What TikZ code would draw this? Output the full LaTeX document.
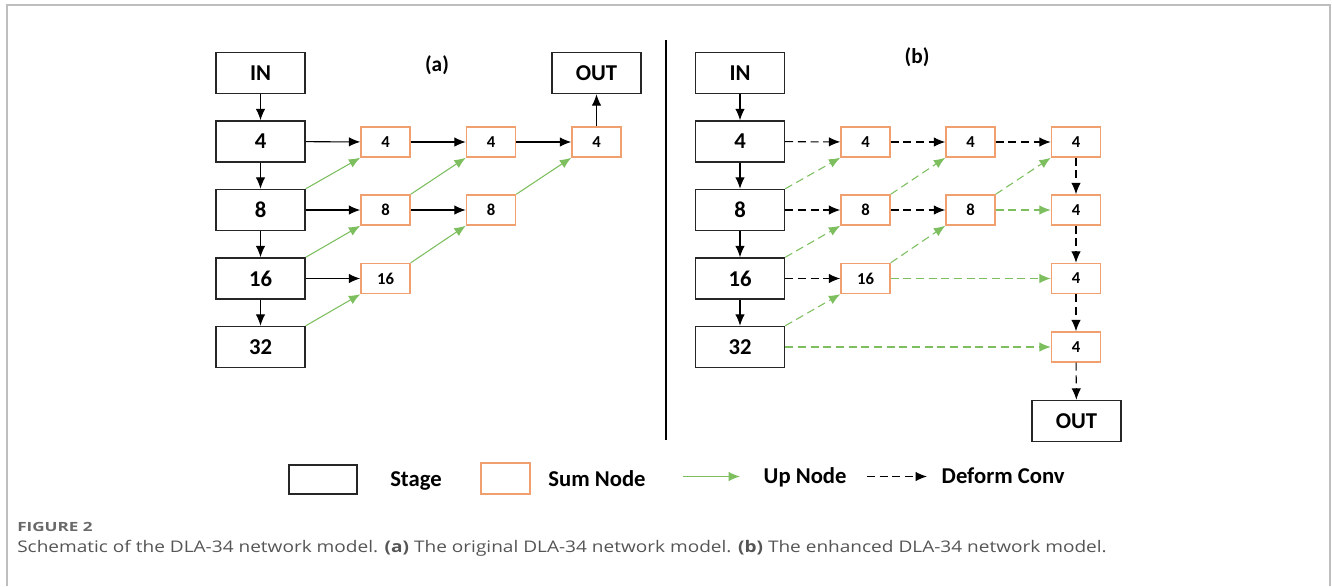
\documentclass[tikz,border=0pt]{standalone}
\usepackage{fontspec}
\setmainfont{Carlito}
\newfontfamily\capfont{Open Sans}
\usetikzlibrary{arrows.meta}
\definecolor{sumor}{RGB}{240,160,110}
\definecolor{upgr}{RGB}{125,190,95}
\definecolor{framegr}{RGB}{190,190,190}
\definecolor{capgr}{RGB}{85,85,85}
\definecolor{figgr}{RGB}{105,105,105}
\begin{document}
\begin{tikzpicture}[x=0.75pt,y=-0.75pt,
  stagebox/.style={draw=black!85,line width=1.1pt,minimum width=66.75pt,minimum height=30.75pt,inner sep=0pt,font=\fontsize{17}{20}\selectfont\bfseries},
  sumbox/.style={draw=sumor,line width=1.1pt,minimum width=36.75pt,minimum height=22.5pt,inner sep=0pt,fill=white,font=\fontsize{12.5}{15}\selectfont\bfseries},
  tipped/.style={-{Latex[length=8.5pt,width=7pt]}},
  blk/.style={tipped,draw=black,line width=0.8pt},
  up/.style={tipped,draw=upgr,color=upgr,line width=0.8pt},
  dfm/.style={blk,dash pattern=on 6pt off 3.5pt},
  updash/.style={up,dash pattern=on 6pt off 3.5pt},
  lbl/.style={font=\fontsize{16}{19}\selectfont\bfseries},
  legtext/.style={font=\fontsize{17}{20}\selectfont\bfseries}
]
\useasboundingbox (0,0) rectangle (1332,586);
% outer frame
\coordinate (f1) at (6.5,586);
\coordinate (f2) at (6.5,5);
\coordinate (f3) at (1330,5);
\coordinate (f4) at (1330,586);
\draw[framegr,line width=1.5pt] (f1) -- (f2) -- (f3) -- (f4);

% ---------------- panel (a)
\node[stagebox] (aIN) at (260.5,73) {IN};
\node[stagebox] (a4) at (260.5,141.5) {4};
\node[stagebox] (a8) at (260.5,210) {8};
\node[stagebox] (a16) at (260.5,278.5) {16};
\node[stagebox] (a32) at (260.5,347) {32};
\node[stagebox] (aOUT) at (596.5,73) {OUT};
\node[sumbox] (as41) at (385.5,142) {4};
\node[sumbox] (as42) at (491,142) {4};
\node[sumbox] (as43) at (596.5,142) {4};
\node[sumbox] (as81) at (385.5,210) {8};
\node[sumbox] (as82) at (491,210) {8};
\node[sumbox] (as161) at (385.5,278.5) {16};
\node[lbl] (alab) at (437,65) {(a)};

\draw[blk] (aIN) -- (a4);
\draw[blk] (a4) -- (a8);
\draw[blk] (a8) -- (a16);
\draw[blk] (a16) -- (a32);
\draw[blk] (a4) -- (as41);
\draw[blk] (as41) -- (as42);
\draw[blk] (as42) -- (as43);
\draw[blk] (as43) -- (aOUT);
\draw[blk] (a8) -- (as81);
\draw[blk] (as81) -- (as82);
\draw[blk] (a16) -- (as161);
\draw[up] (a8.north east) -- (as41.south west);
\draw[up] (as81.north east) -- (as42.south west);
\draw[up] (as82.north east) -- (as43.south west);
\draw[up] (a16.north east) -- (as81.south west);
\draw[up] (as161.north east) -- (as82.south west);
\draw[up] (a32.north east) -- (as161.south west);

% divider
\coordinate (d1) at (666,40);
\coordinate (d2) at (666,440);
\draw[line width=2.2pt] (d1) -- (d2);

% ---------------- panel (b)
\node[stagebox] (bIN) at (740,73) {IN};
\node[stagebox] (b4) at (740,141.5) {4};
\node[stagebox] (b8) at (740,210) {8};
\node[stagebox] (b16) at (740,278.5) {16};
\node[stagebox] (b32) at (740,347) {32};
\node[stagebox] (bOUT) at (1076.5,421) {OUT};
\node[sumbox] (bs41) at (865.5,142) {4};
\node[sumbox] (bs42) at (970.5,142) {4};
\node[sumbox] (bs43) at (1076,142) {4};
\node[sumbox] (bs81) at (865.5,210) {8};
\node[sumbox] (bs82) at (970.5,210) {8};
\node[sumbox] (bs161) at (865.5,278.5) {16};
\node[sumbox] (bc2) at (1076,210) {4};
\node[sumbox] (bc3) at (1076,278.5) {4};
\node[sumbox] (bc4) at (1076,347) {4};
\node[lbl] (blab) at (917,57) {(b)};

\draw[blk] (bIN) -- (b4);
\draw[blk] (b4) -- (b8);
\draw[blk] (b8) -- (b16);
\draw[blk] (b16) -- (b32);
\draw[dfm] (b4) -- (bs41);
\draw[dfm] (bs41) -- (bs42);
\draw[dfm] (bs42) -- (bs43);
\draw[dfm] (b8) -- (bs81);
\draw[dfm] (bs81) -- (bs82);
\draw[dfm] (b16) -- (bs161);
\draw[updash] (bs82) -- (bc2);
\draw[updash] (bs161) -- (bc3);
\draw[updash] (b32) -- (bc4);
\draw[dfm] (bs43) -- (bc2);
\draw[dfm] (bc2) -- (bc3);
\draw[dfm] (bc3) -- (bc4);
\draw[dfm] (bc4) -- (bOUT);
\draw[updash] (b8.north east) -- (bs41.south west);
\draw[updash] (bs81.north east) -- (bs42.south west);
\draw[updash] (bs82.north east) -- (bs43.south west);
\draw[updash] (b16.north east) -- (bs81.south west);
\draw[updash] (bs161.north east) -- (bs82.south west);
\draw[updash] (b32.north east) -- (bs161.south west);

% ---------------- legend
\node[stagebox,minimum width=51pt,minimum height=21.75pt] (lgS) at (323,479.5) {};
\node[legtext] (lgSt) at (416,481) {Stage};
\node[sumbox,minimum height=23.25pt] (lgM) at (505.5,478.5) {};
\node[legtext] (lgMt) at (597,479) {Sum Node};
\coordinate (lu1) at (683,476.5);
\coordinate (lu2) at (740,476.5);
\draw[up] (lu1) -- (lu2);
\node[legtext,anchor=west] (lgUt) at (759,477) {Up Node};
\coordinate (ld1) at (867,476.5);
\coordinate (ld2) at (927,476.5);
\draw[dfm] (ld1) -- (ld2);
\node[legtext,anchor=west] (lgDt) at (937,476) {Deform Conv};

% ---------------- caption
\node[anchor=west,inner sep=0pt,text=figgr,font=\capfont\bfseries\fontsize{9.5}{11}\selectfont] (fig) at (17,527) {\scalebox{1.35}[1]{FIGURE 2}};
\node[anchor=west,inner sep=0pt,text=capgr,font=\capfont\fontsize{12}{14}\selectfont] (cap) at (17,548) {\scalebox{1.19}[1]{Schematic of the DLA-34 network model. \textbf{(a)} The original DLA-34 network model. \textbf{(b)} The enhanced DLA-34 network model.}};
\end{tikzpicture}
\end{document}
